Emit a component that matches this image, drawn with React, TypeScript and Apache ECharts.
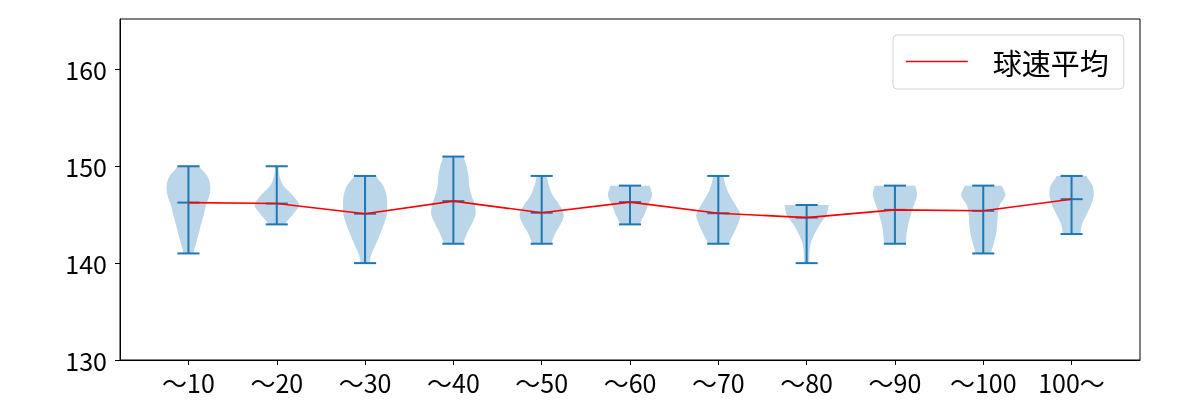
import { useEffect, useRef } from "react";
import * as echarts from "echarts";

const categories = ["〜10", "〜20", "〜30", "〜40", "〜50", "〜60", "〜70", "〜80", "〜90", "〜100", "100〜"];
const positions = [1, 2, 3, 4, 5, 6, 7, 8, 9, 10, 11];
const minValues = [141, 144, 140, 142, 142, 144, 142, 140, 142, 141, 143];
const maxValues = [150, 150, 149, 151, 149, 148, 149, 146, 148, 148, 149];
const meanValues = [146.25, 146.15, 145.1, 146.4, 145.2, 146.3, 145.15, 144.7, 145.5, 145.4, 146.6];
// relative half-width of each violin, read at 1 km/h steps from its min to its max
const violinWidths = [
  [0.23, 0.34, 0.46, 0.57, 0.69, 0.8, 0.95, 0.99, 0.85, 0.5],
  [0.38, 0.72, 1.0, 0.72, 0.3, 0.12, 0.08],
  [0.2, 0.3, 0.5, 0.68, 0.85, 0.98, 1.0, 0.97, 0.82, 0.5],
  [0.45, 0.6, 0.82, 1.0, 0.97, 0.82, 0.72, 0.68, 0.6, 0.47],
  [0.45, 0.6, 0.85, 1.0, 0.8, 0.5, 0.33, 0.23],
  [0.45, 0.65, 0.82, 1.0, 0.9],
  [0.48, 0.68, 0.88, 1.0, 0.78, 0.52, 0.33, 0.24],
  [0.12, 0.13, 0.18, 0.36, 0.6, 0.9, 1.0],
  [0.5, 0.53, 0.6, 0.72, 0.86, 1.0, 0.93],
  [0.35, 0.47, 0.58, 0.63, 0.66, 0.75, 1.0, 0.85],
  [0.4, 0.47, 0.68, 0.88, 1.0, 0.95, 0.68],
];
const yTicks = [130, 140, 150, 160];

const FONT = "'Noto Sans CJK JP', 'Noto Sans', sans-serif";
const HALF = 0.25;
const CAP = 0.125;
const BLUE = "#1f77b4";

function catmull(p0: number, p1: number, p2: number, p3: number, t: number) {
  const t2 = t * t;
  const t3 = t2 * t;
  return 0.5 * (2 * p1 + (-p0 + p2) * t + (2 * p0 - 5 * p1 + 4 * p2 - p3) * t2 + (-p0 + 3 * p1 - 3 * p2 + p3) * t3);
}

export default function App() {
  const ref = useRef<HTMLDivElement>(null);
  useEffect(() => {
    if (!ref.current) return;
    const chart = echarts.init(ref.current, undefined, { renderer: "svg" });
    const violinData = positions.map((p, i) => [p, minValues[i], maxValues[i], meanValues[i]]);
    const renderItem = (params: any, api: any) => {
      const pos = api.value(0);
      const lo = api.value(1);
      const hi = api.value(2);
      const mean = api.value(3);
      const w = violinWidths[params.dataIndex];
      const n = w.length;
      const steps = 8;
      const dense: [number, number][] = [];
      for (let k = 0; k < n - 1; k++) {
        for (let s = 0; s < steps; s++) {
          const t = s / steps;
          const f = catmull(w[Math.max(k - 1, 0)], w[k], w[k + 1], w[Math.min(k + 2, n - 1)], t);
          const v = lo + ((k + t) * (hi - lo)) / (n - 1);
          dense.push([v, Math.max(f, 0.03)]);
        }
      }
      dense.push([hi, w[n - 1]]);
      const right = dense.map(([v, f]) => api.coord([pos + f * HALF, v]));
      const left = dense
        .slice()
        .reverse()
        .map(([v, f]) => api.coord([pos - f * HALF, v]));
      const pts = right.concat(left);
      const line = (x1: number, y1: number, x2: number, y2: number) => {
        const a = api.coord([x1, y1]);
        const b = api.coord([x2, y2]);
        return {
          type: "line",
          shape: { x1: a[0], y1: a[1], x2: b[0], y2: b[1] },
          style: { stroke: BLUE, lineWidth: 2 },
        };
      };
      return {
        type: "group",
        children: [
          { type: "polygon", shape: { points: pts }, style: { fill: "rgba(31,119,180,0.3)" } },
          line(pos, lo, pos, hi),
          line(pos - CAP, lo, pos + CAP, lo),
          line(pos - CAP, hi, pos + CAP, hi),
          line(pos - CAP, mean, pos + CAP, mean),
        ],
      };
    };
    chart.setOption({
      animation: false,
      grid: {
        left: 120,
        top: 19,
        width: 1020,
        height: 341,
        show: true,
        borderColor: "#000",
        borderWidth: 1,
        backgroundColor: "transparent",
      },
      xAxis: {
        type: "value",
        min: 0.225,
        max: 11.775,
        splitLine: { show: false },
        axisLine: { show: true, lineStyle: { color: "#000", width: 1 } },
        axisTick: { show: true, customValues: positions, length: 5, lineStyle: { color: "#000" } },
        axisLabel: {
          customValues: positions,
          formatter: (v: number) => categories[Math.round(v) - 1] ?? "",
          fontSize: 25,
          fontFamily: FONT,
          color: "#000",
          margin: 9,
        },
      },
      yAxis: {
        type: "value",
        min: 130,
        max: 165.2,
        interval: 10,
        splitLine: { show: false },
        axisLine: { show: true, lineStyle: { color: "#000", width: 1 } },
        axisTick: { show: true, customValues: yTicks, length: 5, lineStyle: { color: "#000" } },
        axisLabel: {
          customValues: yTicks,
          fontSize: 25,
          fontFamily: FONT,
          color: "#000",
          margin: 13,
        },
      },
      legend: {
        data: ["球速平均"],
        left: 893,
        top: 35,
        orient: "vertical",
        padding: [12, 15, 13, 12],
        itemWidth: 62,
        itemHeight: 14,
        backgroundColor: "#fff",
        borderColor: "#d5d5d5",
        borderWidth: 1,
        borderRadius: 4,
        itemStyle: { opacity: 0 },
        lineStyle: { color: "#ff0000", width: 1.6 },
        textStyle: { fontSize: 29, fontFamily: FONT, color: "#000", padding: [0, 0, 0, 20] },
      },
      series: [
        {
          type: "custom",
          renderItem,
          data: violinData,
          encode: { x: 0, y: [1, 2] },
          z: 2,
          silent: true,
        },
        {
          type: "line",
          name: "球速平均",
          data: positions.map((p, i) => [p, meanValues[i]]),
          symbol: "none",
          itemStyle: { color: "#ff0000" },
          lineStyle: { color: "#ff0000", width: 1.6 },
          z: 3,
        },
      ],
    });
    return () => chart.dispose();
  }, []);
  return <div ref={ref} style={{ position: "fixed", left: 0, top: 0, width: 1200, height: 400 }} />;
}
